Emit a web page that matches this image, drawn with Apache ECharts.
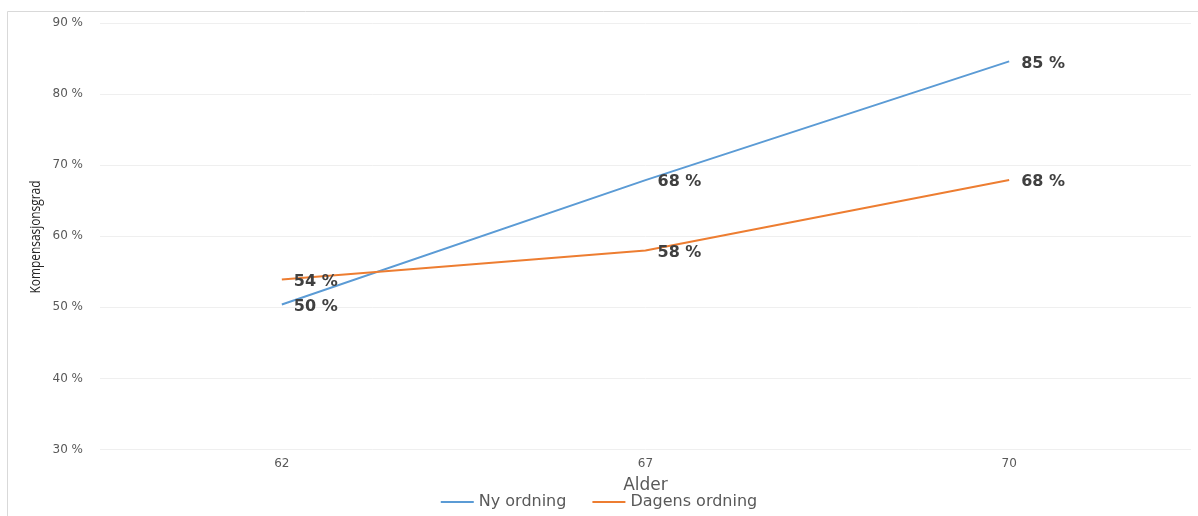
<!DOCTYPE html>
<html>
<head>
<meta charset="utf-8">
<script src="https://cdn.jsdelivr.net/npm/echarts@6/dist/echarts.min.js"></script>
<style>html,body{margin:0;padding:0;background:#fff}#c{width:1198px;height:516px}</style>
</head>
<body>
<div id="c"></div>
<script>
const categories = ['62', '67', '70'];
const nyOrdning = [50.4, 67.9, 84.6];
const dagensOrdning = [53.9, 58.0, 67.9];
const nyLabels = ['50 %', '68 %', '85 %'];
const dagensLabels = ['54 %', '58 %', '68 %'];
const yTicks = { min: 30, max: 90, interval: 10 };

const chart = echarts.init(document.getElementById('c'));
const font = '"DejaVu Sans", "Open Sans", sans-serif';
function labelFor(arr) {
  return {
    show: true, position: 'right', distance: 12,
    fontFamily: font, fontWeight: 'bold', fontSize: 16, color: '#404040',
    offset: [0, 2],
    formatter: p => arr[p.dataIndex]
  };
}
chart.setOption({
  animation: false,
  backgroundColor: '#fff',
  grid: { left: 100, right: 7, top: 23, bottom: 66.5 },
  graphic: [
    { type: 'rect', shape: { x: 7.5, y: 11.5, width: 1300, height: 700 },
      style: { fill: 'none', stroke: '#d9d9d9', lineWidth: 1 }, silent: true },
    { type: 'text', x: 36, y: 237, rotation: Math.PI / 2, scaleX: 0.85,
      style: { text: 'Kompensasjonsgrad', fontFamily: '"Open Sans", sans-serif',
        fontSize: 14, fill: '#262626', align: 'center', verticalAlign: 'middle' } }
  ],
  legend: {
    bottom: 1, left: 'center', icon: 'rect', itemWidth: 33, itemHeight: 2, itemGap: 26,
    textStyle: { fontFamily: font, fontSize: 16, color: '#595959' },
    data: ['Ny ordning', 'Dagens ordning']
  },
  xAxis: {
    type: 'category', data: categories, boundaryGap: true,
    name: 'Alder', nameLocation: 'middle', nameGap: 28,
    nameTextStyle: { fontFamily: font, fontSize: 17, color: '#595959' },
    axisLine: { show: false }, axisTick: { show: false },
    axisLabel: { fontFamily: font, fontSize: 12, color: '#595959', margin: 8 }
  },
  yAxis: {
    type: 'value', min: yTicks.min, max: yTicks.max, interval: yTicks.interval,
    axisLine: { show: false }, axisTick: { show: false },
    axisLabel: { fontFamily: font, fontSize: 12, color: '#595959', margin: 17, formatter: '{value} %' },
    splitLine: { lineStyle: { color: '#efefef', width: 1 } }
  },
  series: [
    { name: 'Ny ordning', type: 'line', data: nyOrdning, symbol: 'circle', symbolSize: 0.01, showSymbol: true,
      lineStyle: { color: '#5B9BD5', width: 2 }, itemStyle: { color: '#5B9BD5' },
      label: labelFor(nyLabels) },
    { name: 'Dagens ordning', type: 'line', data: dagensOrdning, symbol: 'circle', symbolSize: 0.01, showSymbol: true,
      lineStyle: { color: '#ED7D31', width: 2 }, itemStyle: { color: '#ED7D31' },
      label: labelFor(dagensLabels) }
  ]
});
</script>
</body>
</html>
